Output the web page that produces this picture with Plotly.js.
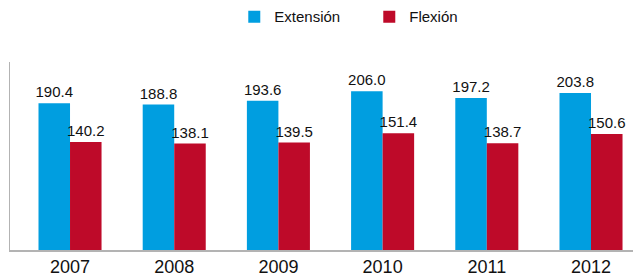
<!DOCTYPE html>
<html>
<head>
<meta charset="utf-8">
<script src="https://cdn.plot.ly/plotly-3.0.1.min.js"></script>
<style>html,body{margin:0;padding:0;background:#fff;}#chart{width:633px;height:276px;}</style>
</head>
<body>
<div id="chart"></div>
<script>
const years = ["2007", "2008", "2009", "2010", "2011", "2012"];
const extension = [190.4, 188.8, 193.6, 206.0, 197.2, 203.8];
const flexion = [140.2, 138.1, 139.5, 151.4, 138.7, 150.6];
const seriesNames = ["Extensión", "Flexión"];

const fontFam = "'Liberation Sans', Arial, Helvetica, sans-serif";
const traces = [
  {
    type: "bar", name: seriesNames[0], x: years, y: extension,
    marker: {color: "#009ee0"},
    text: extension.map(v => v.toFixed(1)), textposition: "outside", constraintext: "none",
    textfont: {family: fontFam, size: 15, color: "#111"}, cliponaxis: false
  },
  {
    type: "bar", name: seriesNames[1], x: years, y: flexion,
    marker: {color: "#be0a29"},
    text: flexion.map(v => v.toFixed(1)), textposition: "outside", constraintext: "none",
    textfont: {family: fontFam, size: 15, color: "#111"}, cliponaxis: false
  }
];
const layout = {
  width: 633, height: 276,
  margin: {l: 10, r: 0, t: 60, b: 26},
  paper_bgcolor: "#fff", plot_bgcolor: "#fff",
  font: {family: fontFam, color: "#111"},
  barmode: "group", bargap: 0.395, bargroupgap: 0,
  showlegend: true,
  legend: {orientation: "h", x: 0.36, xanchor: "left", y: 1.24, yanchor: "middle",
           font: {family: fontFam, size: 15, color: "#111"}, entrywidth: 90, itemwidth: 30},
  xaxis: {type: "category", range: [-0.576, 5.403], showline: true, linecolor: "#b3b3b3", linewidth: 1.5,
          ticks: "", showgrid: false, tickfont: {family: fontFam, size: 18, color: "#111"},
          ticklabelstandoff: 0, fixedrange: true},
  yaxis: {range: [0, 244], showline: true, linecolor: "#b3b3b3", linewidth: 1.5, showticklabels: false,
          ticks: "", showgrid: false, zeroline: false, fixedrange: true}
};
Plotly.newPlot("chart", traces, layout, {displayModeBar: false, staticPlot: true});
</script>
</body>
</html>
